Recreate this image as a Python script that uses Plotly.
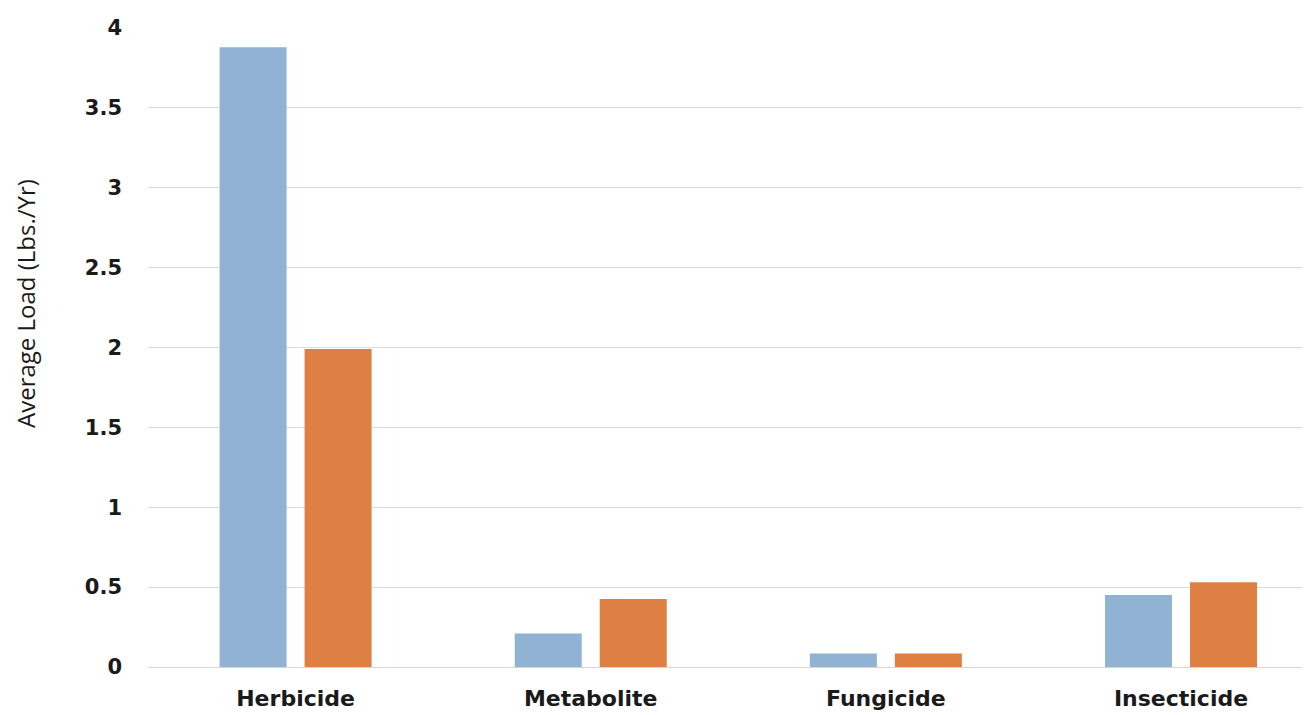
import plotly.graph_objects as go

categories = ["Herbicide", "Metabolite", "Fungicide", "Insecticide"]
series_a = [3.88, 0.21, 0.085, 0.45]
series_b = [1.99, 0.425, 0.085, 0.53]
y_ticks = [0, 0.5, 1, 1.5, 2, 2.5, 3, 3.5, 4]
y_tick_labels = ["0", "0.5", "1", "1.5", "2", "2.5", "3", "3.5", "4"]
y_title = "Average Load (Lbs./Yr)"

color_a = "#90B3D3"
color_b = "#DE7F44"

W, H = 1310, 715
ML, MR, MT, MB = 140, 8, 13, 56
PW, PH = W - ML - MR, H - MT - MB

fig = go.Figure()
fig.add_trace(go.Bar(x=categories, y=series_a, marker_color=color_a,
                     marker_line_width=0, showlegend=False))
fig.add_trace(go.Bar(x=categories, y=series_b, marker_color=color_b,
                     marker_line_width=0, showlegend=False))

fig.update_layout(
    width=W, height=H,
    margin=dict(l=ML, r=MR, t=MT, b=MB),
    paper_bgcolor="white", plot_bgcolor="white",
    barmode="group", bargap=0.424, bargroupgap=0.212,
    xaxis=dict(range=[-0.5, 3.437], showgrid=False, showline=False,
               zeroline=False, ticks="",
               tickfont=dict(family="DejaVu Sans", size=22, color="#1a1a1a", weight="bold"),
               ticklabelstandoff=16),
    yaxis=dict(range=[0, 4], tickvals=y_ticks, ticktext=y_tick_labels,
               showgrid=True, gridcolor="#dcdcdc", gridwidth=1,
               zeroline=True, zerolinecolor="#d6d6d6", zerolinewidth=1,
               showline=False, ticks="",
               tickfont=dict(family="DejaVu Sans", size=21, color="#1a1a1a", weight="bold"),
               ticklabelstandoff=25),
    annotations=[dict(text=y_title, xref="paper", yref="paper",
                      x=(26 - 8 - ML) / PW, y=(659 - 292) / PH,
                      xanchor="center", yanchor="middle", textangle=-90,
                      showarrow=False,
                      font=dict(family="Open Sans", size=24, color="#1a1a1a"))],
)

fig.write_html("out.html")
